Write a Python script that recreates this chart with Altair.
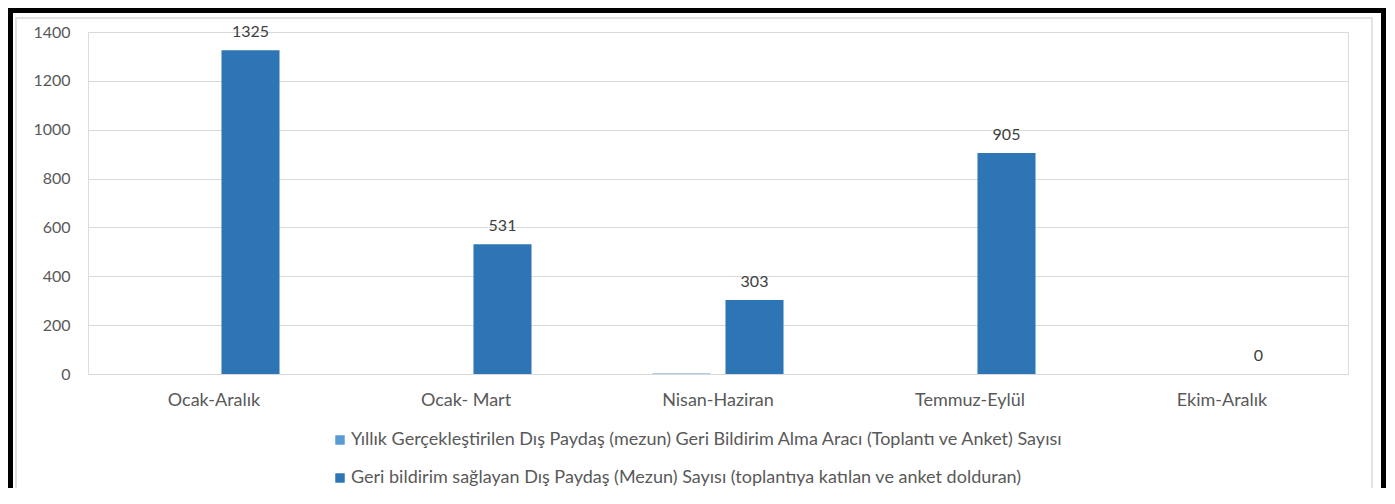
import altair as alt
import pandas as pd

categories = ["Ocak-Aralık", "Ocak- Mart", "Nisan-Haziran", "Temmuz-Eylül", "Ekim-Aralık"]
series_names = [
    "Yıllık Gerçekleştirilen Dış Paydaş (mezun) Geri Bildirim Alma Aracı (Toplantı ve Anket) Sayısı",
    "Geri bildirim sağlayan Dış Paydaş (Mezun) Sayısı (toplantıya katılan ve anket dolduran)",
]
series1_values = [0, 0, 2, 0, 0]
series2_values = [1325, 531, 303, 905, 0]
colors = ["#5B9BD5", "#2E75B6"]
y_ticks = [0, 200, 400, 600, 800, 1000, 1200, 1400]

rows = []
for c, v in zip(categories, series1_values):
    rows.append({"cat": c, "series": series_names[0], "value": v})
for c, v in zip(categories, series2_values):
    rows.append({"cat": c, "series": series_names[1], "value": v})
df = pd.DataFrame(rows)
df2 = df[df["series"] == series_names[1]]

FONT = "Lato"
FS = 16
FS_TXT = 18

x_enc = alt.X("cat:N", sort=categories, title=None,
              scale=alt.Scale(paddingInner=0.48, paddingOuter=0.24),
              axis=alt.Axis(labelAngle=0, labelFontSize=FS_TXT, labelColor="#595959",
                            labelFont=FONT, ticks=False, domain=False, labelPadding=17,
                            grid=False))
y_enc = alt.Y("value:Q", title=None,
              scale=alt.Scale(domain=[0, 1400], nice=False),
              axis=alt.Axis(values=y_ticks, format="d", labelFontSize=FS, labelColor="#595959",
                            labelFont=FONT, ticks=False, domain=False, labelPadding=18,
                            gridColor="#D9D9D9", gridWidth=1))

bars = alt.Chart(df).mark_bar().encode(
    x=x_enc,
    y=y_enc,
    xOffset=alt.XOffset("series:N", sort=series_names,
                        scale=alt.Scale(paddingInner=0.205, paddingOuter=0)),
    color=alt.Color("series:N", sort=series_names,
                    scale=alt.Scale(domain=series_names, range=colors),
                    legend=alt.Legend(title=None, orient="none", legendX=243, legendY=399,
                                      direction="vertical", symbolType="square",
                                      symbolSize=90, symbolStrokeWidth=0,
                                      labelFontSize=FS_TXT, labelColor="#595959",
                                      labelFont=FONT, rowPadding=20, labelLimit=1000,
                                      labelOffset=2)),
)

labels = alt.Chart(df2).mark_text(baseline="bottom", dy=-10, fontSize=FS,
                                  color="#404040", font=FONT).encode(
    x=alt.X("cat:N", sort=categories),
    xOffset=alt.XOffset("series:N", sort=series_names),
    y=alt.Y("value:Q"),
    text=alt.Text("value:Q"),
)

one = pd.DataFrame({"a": [0]})
gray_frame = alt.Chart(one).mark_rect(fillOpacity=0, stroke="#D9D9D9", strokeWidth=1.5).encode(
    x=alt.value(-72), x2=alt.value(1284), y=alt.value(-14), y2=alt.value(700)
)
black_frame = alt.Chart(one).mark_rect(fillOpacity=0, stroke="#000000", strokeWidth=5).encode(
    x=alt.value(-77.5), x2=alt.value(1295.5), y=alt.value(-21.5), y2=alt.value(700)
)

chart = alt.layer(gray_frame, black_frame, bars, labels).properties(
    width=1260, height=342,
    autosize=alt.AutoSizeParams(type="none"),
    padding={"left": 80, "top": 24, "right": 38, "bottom": 114},
).configure_view(strokeWidth=0, stroke="transparent").configure(background="white")

chart.save("out.html", embed_options={"renderer": "svg", "actions": False})
